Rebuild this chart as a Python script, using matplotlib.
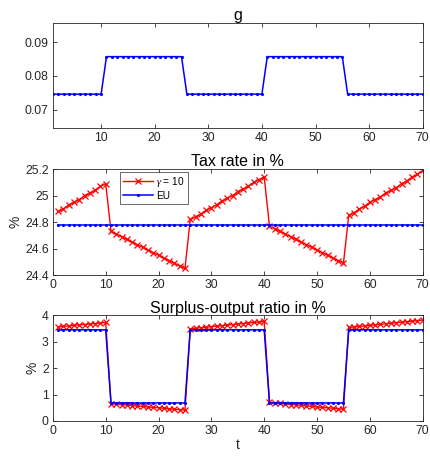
import numpy as np
import matplotlib.pyplot as plt

plt.rcParams['font.family'] = ['Liberation Sans', 'DejaVu Sans']
plt.rcParams['mathtext.fontset'] = 'custom'
plt.rcParams['mathtext.it'] = 'Liberation Serif:italic'

t = np.arange(1, 71)

# government spending g (low / high regimes)
g = [0.0746] * 10 + [0.0857] * 15 + [0.0746] * 15 + [0.0857] * 15 + [0.0746] * 15

# tax rate in %
tax_gamma = [24.88, 24.90, 24.93, 24.95, 24.97, 25.00, 25.02, 25.04, 25.07, 25.09,
             24.73, 24.71, 24.69, 24.67, 24.65, 24.63, 24.61, 24.59, 24.57, 24.55,
             24.53, 24.51, 24.49, 24.47, 24.45,
             24.82, 24.84, 24.86, 24.89, 24.91, 24.93, 24.96, 24.98, 25.00, 25.03,
             25.05, 25.07, 25.10, 25.12, 25.14,
             24.77, 24.75, 24.73, 24.71, 24.69, 24.67, 24.65, 24.63, 24.61, 24.59,
             24.57, 24.55, 24.53, 24.51, 24.49,
             24.85, 24.87, 24.90, 24.92, 24.95, 24.97, 24.99, 25.02, 25.04, 25.06,
             25.09, 25.11, 25.14, 25.16, 25.19]
tax_eu = [24.78] * 70

# surplus-output ratio in %
surp_gamma = [3.56, 3.58, 3.60, 3.62, 3.64, 3.65, 3.67, 3.69, 3.71, 3.73,
              0.65, 0.63, 0.62, 0.60, 0.58, 0.56, 0.55, 0.53, 0.51, 0.50,
              0.48, 0.46, 0.44, 0.43, 0.41,
              3.49, 3.51, 3.53, 3.55, 3.57, 3.59, 3.61, 3.63, 3.65, 3.67,
              3.69, 3.71, 3.73, 3.75, 3.77,
              0.70, 0.68, 0.66, 0.64, 0.62, 0.61, 0.59, 0.57, 0.55, 0.53,
              0.51, 0.50, 0.48, 0.46, 0.44,
              3.54, 3.56, 3.58, 3.60, 3.62, 3.64, 3.66, 3.68, 3.70, 3.72,
              3.74, 3.76, 3.78, 3.80, 3.82]
surp_eu = [3.45] * 10 + [0.68] * 15 + [3.45] * 15 + [0.68] * 15 + [3.45] * 15

fig = plt.figure(figsize=(4.3, 4.57), dpi=100)
ax1 = fig.add_axes([0.123, 0.720, 0.860, 0.230])
ax2 = fig.add_axes([0.123, 0.398, 0.860, 0.232])
ax3 = fig.add_axes([0.123, 0.079, 0.860, 0.231])

dark = '#262626'
for ax in (ax1, ax2, ax3):
    ax.tick_params(direction='in', top=True, right=True, labelsize=8.7,
                   colors=dark, length=3, width=0.6, pad=3)
    for s in ax.spines.values():
        s.set_color(dark)
        s.set_linewidth(0.6)

# g
ax1.plot(t, g, color='b', marker='.', markersize=2.5, lw=1.1)
ax1.set_xlim(1, 70)
ax1.set_ylim(0.0646, 0.0957)
ax1.set_xticks([10, 20, 30, 40, 50, 60, 70])
ax1.set_yticks([0.07, 0.08, 0.09])
ax1.set_title('g', fontsize=11.5, pad=2)

# tax rate
ax2.plot(t, tax_gamma, color='r', marker='x', markersize=4, lw=1.0, mew=0.9,
         label=r'$\gamma$ = 10')
ax2.plot(t, tax_eu, color='b', marker='.', markersize=2.5, lw=1.1, label='EU')
ax2.set_xlim(0, 70)
ax2.set_ylim(24.4, 25.2)
ax2.set_yticks([24.4, 24.6, 24.8, 25.0, 25.2])
ax2.set_yticklabels(['24.4', '24.6', '24.8', '25', '25.2'])
ax2.set_title('Tax rate in %', fontsize=11.5, pad=2)
ax2.set_ylabel('%', fontsize=10, color=dark, labelpad=2)
leg = ax2.legend(loc='upper left', bbox_to_anchor=(0.181, 0.975), fontsize=7.3,
                 fancybox=False, edgecolor=dark, borderpad=0.3,
                 handlelength=3.0, labelspacing=0.2, handletextpad=0.3,
                 borderaxespad=0)
leg.get_frame().set_linewidth(0.6)

# surplus-output ratio
ax3.plot(t, surp_gamma, color='r', marker='x', markersize=4, lw=1.0, mew=0.9)
ax3.plot(t, surp_eu, color='b', marker='.', markersize=2.5, lw=1.1)
ax3.set_xlim(0, 70)
ax3.set_ylim(0, 4)
ax3.set_yticks([0, 1, 2, 3, 4])
ax3.set_title('Surplus-output ratio in %', fontsize=11.5, pad=2)
ax3.set_ylabel('%', fontsize=10, color=dark, labelpad=2)
ax3.set_xlabel('t', fontsize=10, color=dark, labelpad=1)

fig.savefig('out.png', dpi=100)
